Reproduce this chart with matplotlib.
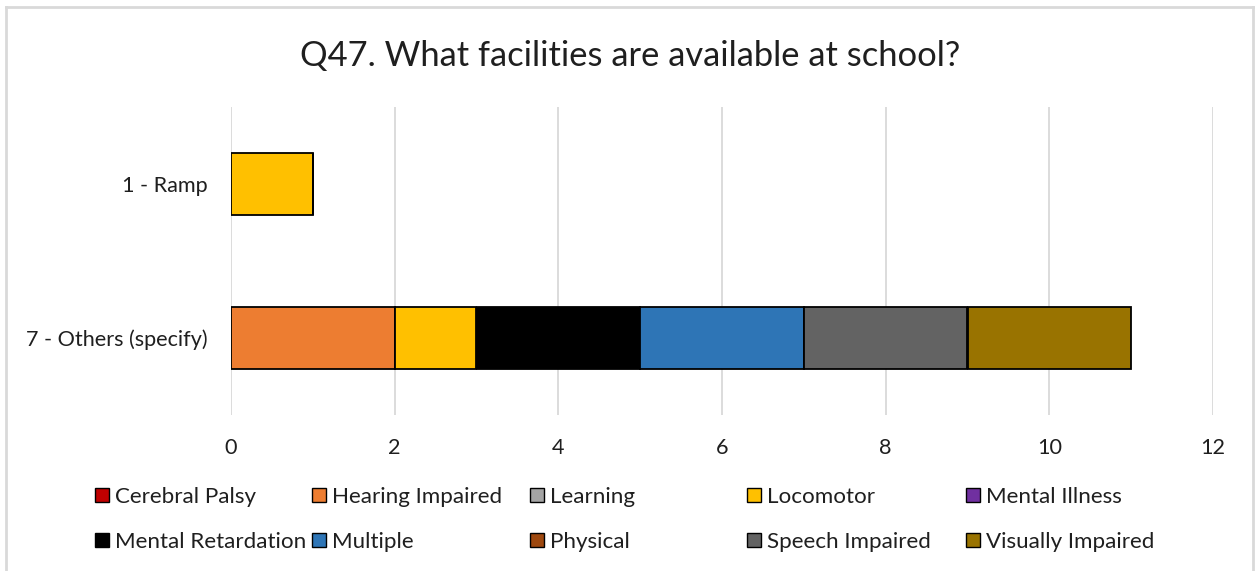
import matplotlib
matplotlib.use("Agg")
import matplotlib.pyplot as plt
from matplotlib.lines import Line2D
from matplotlib.patches import Patch

plt.rcParams['font.family'] = ['Lato', 'DejaVu Sans']

# ── Data ──────────────────────────────────────────────────────────────────────
categories = ['1 - Ramp', '7 - Others (specify)']
series = ['Cerebral Palsy', 'Hearing Impaired', 'Learning', 'Locomotor', 'Mental Illness',
          'Mental Retardation', 'Multiple', 'Physical', 'Speech Impaired', 'Visually Impaired']
values = {
    'Cerebral Palsy':     [0, 0],
    'Hearing Impaired':   [0, 2],
    'Learning':           [0, 0],
    'Locomotor':          [1, 1],
    'Mental Illness':     [0, 0],
    'Mental Retardation': [0, 2],
    'Multiple':           [0, 2],
    'Physical':           [0, 0],
    'Speech Impaired':    [0, 2],
    'Visually Impaired':  [0, 2],
}
colors = ['#C00000', '#ED7D31', '#A5A5A5', '#FFC000', '#7030A0',
          '#000000', '#2E75B6', '#9E480E', '#636363', '#997300']
xticks = [0, 2, 4, 6, 8, 10, 12]

W, H = 1255, 571
txt = '#1f1f1f'

# ── Figure ────────────────────────────────────────────────────────────────────
fig = plt.figure(figsize=(W/100, H/100), dpi=100)
ax = fig.add_axes([231/W, 1 - 415/H, (1213 - 231)/W, (415 - 107)/H])

ypos = [0, 1]
left = [0, 0]
for name, col in zip(series, colors):
    vals = values[name]
    ax.barh(ypos, vals, left=left, height=0.4, color=col,
            edgecolor='black', linewidth=1.3, zorder=3)
    left = [l + v for l, v in zip(left, vals)]

ax.set_xlim(0, 12)
ax.set_ylim(1.5, -0.5)
ax.set_xticks(xticks)
ax.set_yticks(ypos)
ax.set_yticklabels(categories)
ax.tick_params(length=0, labelsize=15.6, colors=txt)
ax.tick_params(axis='x', pad=16.5)
ax.tick_params(axis='y', pad=17)
ax.grid(axis='x', color='#D9D9D9', linewidth=1.3, zorder=0)
for s in ax.spines.values():
    s.set_visible(False)

fig.text(630/W, 1 - 56/H, 'Q47. What facilities are available at school?',
         ha='center', va='center', fontsize=24.8, color=txt)

# legend: Excel lays the entries out row by row in equal-width columns
col_x = [95, 312, 530, 747, 966]
row_y = [497, 542]
fs_leg = 16.1
box = 14 * 0.72 / fs_leg
for i, (name, col) in enumerate(zip(series, colors)):
    r, c = divmod(i, 5)
    h = Patch(facecolor=col, edgecolor='black', linewidth=1.0, label=name)
    leg = fig.legend(handles=[h], loc='center left',
                     bbox_to_anchor=(col_x[c]/W, 1 - row_y[r]/H),
                     frameon=False, fontsize=fs_leg, handlelength=box, handleheight=box,
                     handletextpad=0.25, borderpad=0, borderaxespad=0)
    leg.get_texts()[0].set_color(txt)

# chart border (cropped at bottom)
bc = '#D9D9D9'
fig.add_artist(Line2D([6/W, 1253/W], [1 - 7/H, 1 - 7/H], color=bc, lw=2, transform=fig.transFigure))
fig.add_artist(Line2D([6/W, 6/W], [0, 1 - 7/H], color=bc, lw=2, transform=fig.transFigure))
fig.add_artist(Line2D([1253/W, 1253/W], [0, 1 - 7/H], color=bc, lw=2, transform=fig.transFigure))

fig.savefig('out.png', dpi=100, facecolor='white')
